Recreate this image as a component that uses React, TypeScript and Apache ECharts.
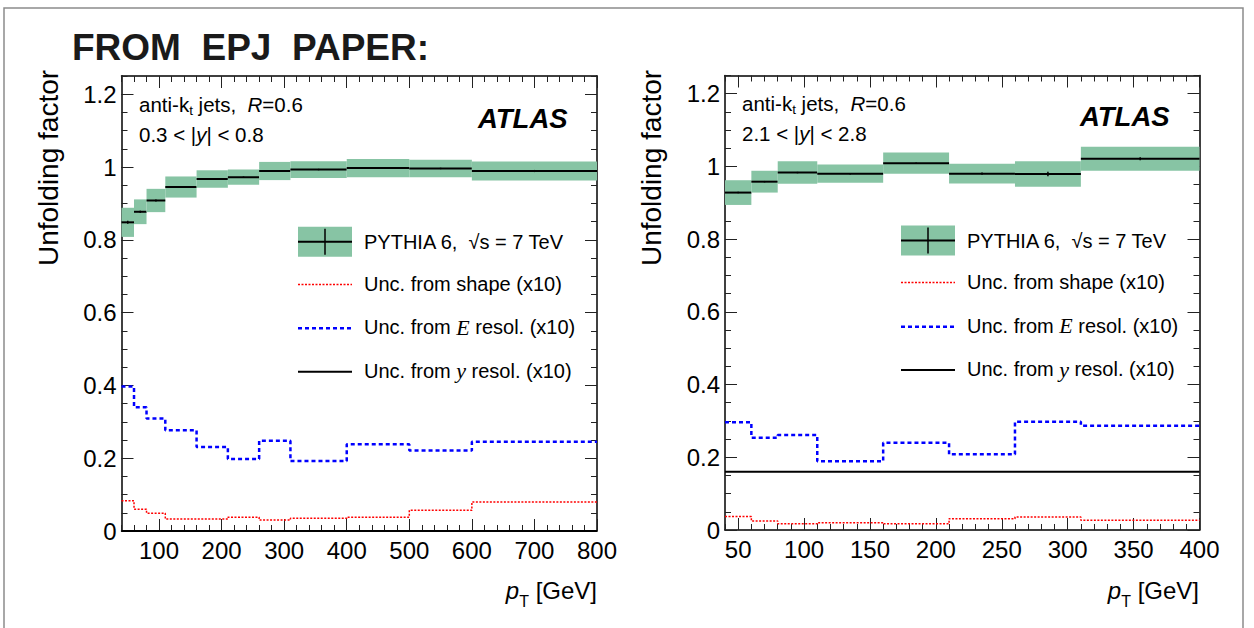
import React, { useEffect, useRef } from "react";
import * as echarts from "echarts";

const GREEN = "#87c4a4";
const FONT = "Liberation Sans";
const SERIF = "Liberation Serif";

// ---------- Left panel: 0.3 < |y| < 0.8 ----------
const leftEdges = [40, 60, 80, 110, 160, 210, 260, 310, 400, 500, 600, 800];
const leftFactor = [0.848, 0.877, 0.908, 0.945, 0.967, 0.972, 0.989, 0.993, 0.997, 0.996, 0.989];
const leftBand = [0.04, 0.034, 0.032, 0.029, 0.024, 0.021, 0.025, 0.023, 0.025, 0.024, 0.026];
const leftStat = [0.004, 0.003, 0.003, 0.002, 0.002, 0.002, 0.003, 0.002, 0.002, 0.002, 0.003];
const leftShape = [0.083, 0.06, 0.049, 0.033, 0.033, 0.038, 0.03, 0.035, 0.038, 0.057, 0.08];
const leftEres = [0.397, 0.34, 0.309, 0.277, 0.231, 0.198, 0.248, 0.192, 0.238, 0.221, 0.245];
const leftYres = [0, 0, 0, 0, 0, 0, 0, 0, 0, 0, 0];

// ---------- Right panel: 2.1 < |y| < 2.8 ----------
const rightEdges = [40, 60, 80, 110, 160, 210, 260, 310, 400];
const rightFactor = [0.928, 0.958, 0.983, 0.98, 1.009, 0.98, 0.979, 1.021];
const rightBand = [0.034, 0.03, 0.031, 0.025, 0.029, 0.027, 0.035, 0.033];
const rightStat = [0.002, 0.002, 0.002, 0.002, 0.002, 0.003, 0.006, 0.004];
const rightShape = [0.037, 0.025, 0.017, 0.02, 0.017, 0.031, 0.036, 0.027];
const rightEres = [0.296, 0.254, 0.261, 0.189, 0.24, 0.208, 0.298, 0.287];
const rightYres = [0.16, 0.16, 0.16, 0.16, 0.16, 0.16, 0.16, 0.16];

// ---------- Ticks ----------
const leftXMajor = [100, 200, 300, 400, 500, 600, 700, 800];
const rightXMajor = [50, 100, 150, 200, 250, 300, 350, 400];
const yMajor = [0, 0.2, 0.4, 0.6, 0.8, 1, 1.2];

function tickRange(a: number, b: number, step: number): number[] {
  const out: number[] = [];
  for (let k = 0; a + k * step <= b + 1e-9; k++) out.push(Math.round((a + k * step) * 1000) / 1000);
  return out;
}
const leftXMinor = tickRange(40, 800, 20);
const rightXMinor = tickRange(40, 400, 10);
const yMinor = tickRange(0, 1.25, 0.05);

function steps(edges: number[], vals: number[]) {
  const pts: number[][] = [];
  vals.forEach((v, i) => {
    pts.push([edges[i], v]);
    pts.push([edges[i + 1], v]);
  });
  return pts;
}
function bands(edges: number[], vals: number[], band: number[], stat: number[]) {
  return vals.map((v, i) => [edges[i], edges[i + 1], v, band[i], stat[i]]);
}

const tickStyle = { color: "#222", width: 1 };
const axisLineStyle = { color: "#000", width: 1.5 };

function xAxes(gi: number, min: number, max: number, majors: number[], minors: number[]) {
  const base = { type: "value", gridIndex: gi, min, max, splitLine: { show: false } };
  const major = (pos: string, labels: boolean) => ({
    ...base,
    position: pos,
    axisLine: { show: true, onZero: false, lineStyle: axisLineStyle },
    axisTick: { show: true, inside: true, length: 12, customValues: majors, lineStyle: tickStyle },
    axisLabel: labels
      ? { show: true, customValues: majors, fontSize: 24, fontFamily: FONT, color: "#000", margin: 7, formatter: (v: number) => String(v) }
      : { show: false },
  });
  const minor = (pos: string) => ({
    ...base,
    position: pos,
    axisLine: { show: false, onZero: false },
    axisTick: { show: true, inside: true, length: 6, customValues: minors, lineStyle: tickStyle },
    axisLabel: { show: false },
  });
  return [major("bottom", true), minor("bottom"), major("top", false), minor("top")];
}
function yAxes(gi: number) {
  const base = { type: "value", gridIndex: gi, min: 0, max: 1.25, splitLine: { show: false } };
  const major = (pos: string, labels: boolean) => ({
    ...base,
    position: pos,
    axisLine: { show: true, onZero: false, lineStyle: axisLineStyle },
    axisTick: { show: true, inside: true, length: 12, customValues: yMajor, lineStyle: tickStyle },
    axisLabel: labels
      ? { show: true, customValues: yMajor, fontSize: 24, fontFamily: FONT, color: "#000", margin: 5, formatter: (v: number) => String(v) }
      : { show: false },
  });
  const minor = (pos: string) => ({
    ...base,
    position: pos,
    axisLine: { show: false, onZero: false },
    axisTick: { show: true, inside: true, length: 6, customValues: yMinor, lineStyle: tickStyle },
    axisLabel: { show: false },
  });
  return [major("left", true), minor("left"), major("right", false), minor("right")];
}

function panelSeries(
  ai: number,
  edges: number[],
  factor: number[],
  band: number[],
  stat: number[],
  shape: number[],
  eres: number[],
  yres: number[]
) {
  return [
    {
      type: "custom",
      xAxisIndex: ai,
      yAxisIndex: ai,
      z: 2,
      silent: true,
      encode: { x: [0, 1], y: 2 },
      data: bands(edges, factor, band, stat),
      renderItem: (_p: any, api: any) => {
        const x0 = api.value(0);
        const x1 = api.value(1);
        const y = api.value(2);
        const b = api.value(3);
        const s = api.value(4);
        const p0 = api.coord([x0, y + b]);
        const p1 = api.coord([x1, y - b]);
        const c0 = api.coord([x0, y]);
        const c1 = api.coord([x1, y]);
        const xm = (x0 + x1) / 2;
        const e0 = api.coord([xm, y + s]);
        const e1 = api.coord([xm, y - s]);
        return {
          type: "group",
          children: [
            { type: "rect", shape: { x: p0[0], y: p0[1], width: p1[0] - p0[0], height: p1[1] - p0[1] }, style: { fill: GREEN } },
            { type: "line", shape: { x1: c0[0], y1: c0[1], x2: c1[0], y2: c1[1] }, style: { stroke: "#000", lineWidth: 2 } },
            { type: "line", shape: { x1: e0[0], y1: e0[1], x2: e1[0], y2: e1[1] }, style: { stroke: "#000", lineWidth: 1.5 } },
          ],
        };
      },
    },
    {
      type: "line",
      xAxisIndex: ai,
      yAxisIndex: ai,
      z: 3,
      symbol: "none",
      silent: true,
      data: steps(edges, shape),
      lineStyle: { color: "#ff0000", width: 1.5, type: [2, 1.5] },
    },
    {
      type: "line",
      xAxisIndex: ai,
      yAxisIndex: ai,
      z: 3,
      symbol: "none",
      silent: true,
      data: steps(edges, eres),
      lineStyle: { color: "#0000ff", width: 2.5, type: [4, 3] },
    },
    {
      type: "line",
      xAxisIndex: ai,
      yAxisIndex: ai,
      z: 4,
      symbol: "none",
      silent: true,
      data: steps(edges, yres),
      lineStyle: { color: "#000", width: 2 },
    },
  ];
}

const R19 = {
  n: { fontSize: 20.5, fontFamily: FONT, fill: "#000", lineHeight: 26 },
  i: { fontSize: 20.5, fontFamily: FONT, fontStyle: "italic", fill: "#000", lineHeight: 26 },
  s: { fontSize: 13.5, fontFamily: FONT, fill: "#000", lineHeight: 26, padding: [12, 0, 0, 0] },
};
const R20 = {
  n: { fontSize: 20, fontFamily: FONT, fill: "#000", lineHeight: 26 },
  m: { fontSize: 22, fontFamily: SERIF, fontStyle: "italic", fill: "#000", lineHeight: 26 },
};
const R24 = {
  n: { fontSize: 24, fontFamily: FONT, fill: "#000", lineHeight: 30 },
  i: { fontSize: 24, fontFamily: FONT, fontStyle: "italic", fill: "#000", lineHeight: 30 },
  s: { fontSize: 16, fontFamily: FONT, fill: "#000", lineHeight: 30, padding: [22, 0, 0, 0] },
};

function rtext(x: number, y: number, text: string, rich: any, align = "left") {
  return {
    type: "text",
    x,
    y,
    silent: true,
    z: 10,
    style: { text, rich, align, verticalAlign: "middle", textAlign: align, textVerticalAlign: "middle" },
  };
}
function ptext(x: number, y: number, text: string, st: any, rotation = 0) {
  return {
    type: "text",
    x,
    y,
    rotation,
    silent: true,
    z: 10,
    style: { text, fill: "#000", fontFamily: FONT, align: "left", verticalAlign: "middle", textAlign: "left", textVerticalAlign: "middle", ...st },
  };
}

function legend(x: number, rows: number[]) {
  const w = 54;
  return [
    { type: "rect", z: 9, silent: true, shape: { x, y: rows[0] - 15, width: w, height: 30 }, style: { fill: GREEN } },
    { type: "line", z: 10, silent: true, shape: { x1: x, y1: rows[0], x2: x + w, y2: rows[0] }, style: { stroke: "#000", lineWidth: 2 } },
    { type: "line", z: 10, silent: true, shape: { x1: x + w / 2, y1: rows[0] - 13, x2: x + w / 2, y2: rows[0] + 13 }, style: { stroke: "#000", lineWidth: 1.5 } },
    { type: "line", z: 10, silent: true, shape: { x1: x, y1: rows[1], x2: x + w, y2: rows[1] }, style: { stroke: "#ff0000", lineWidth: 1.5, lineDash: [2, 1.5] } },
    { type: "line", z: 10, silent: true, shape: { x1: x, y1: rows[2], x2: x + w, y2: rows[2] }, style: { stroke: "#0000ff", lineWidth: 2.5, lineDash: [4, 3] } },
    { type: "line", z: 10, silent: true, shape: { x1: x, y1: rows[3], x2: x + w, y2: rows[3] }, style: { stroke: "#000", lineWidth: 2 } },
    rtext(x + 66, rows[0], "{n|PYTHIA 6,\u00a0 \u221As = 7 TeV}", R20),
    rtext(x + 66, rows[1] - 1, "{n|Unc. from shape (x10)}", R20),
    rtext(x + 66, rows[2] - 1, "{n|Unc. from }{m|E}{n| resol. (x10)}", R20),
    rtext(x + 66, rows[3] - 1, "{n|Unc. from }{m|y}{n| resol. (x10)}", R20),
  ];
}

export default function App() {
  const ref = useRef<HTMLDivElement>(null);
  useEffect(() => {
    if (!ref.current) return;
    const chart = echarts.init(ref.current, undefined, { renderer: "svg" });
    const option: any = {
      animation: false,
      backgroundColor: "#fff",
      textStyle: { fontFamily: FONT },
      grid: [
        { left: 121.5, top: 76, width: 475.5, height: 455, containLabel: false, outerBoundsMode: "none" },
        { left: 725, top: 75.5, width: 474.5, height: 454.5, containLabel: false, outerBoundsMode: "none" },
      ],
      xAxis: [...xAxes(0, 40, 800, leftXMajor, leftXMinor), ...xAxes(1, 40, 400, rightXMajor, rightXMinor)],
      yAxis: [...yAxes(0), ...yAxes(1)],
      series: [
        ...panelSeries(0, leftEdges, leftFactor, leftBand, leftStat, leftShape, leftEres, leftYres),
        ...panelSeries(4, rightEdges, rightFactor, rightBand, rightStat, rightShape, rightEres, rightYres),
      ],
      graphic: {
        elements: [
          { type: "rect", silent: true, z: 0, shape: { x: 4, y: 8, width: 1239, height: 640 }, style: { fill: "none", stroke: "#8c8c8c", lineWidth: 1.5 } },
          ptext(72, 47.5, "FROM\u00a0 EPJ\u00a0 PAPER:", { fontSize: 37, fontWeight: "bold", fill: "#1a1a1a" }),
          // left panel texts
          rtext(139, 104, "{n|anti-k}{s|t}{n| jets,\u00a0 }{i|R}{n|=0.6}", R19),
          rtext(139, 134, "{n|0.3 < |}{i|y}{n|| < 0.8}", R19),
          ptext(478, 118, "ATLAS", { fontSize: 27.5, fontWeight: "bold", fontStyle: "italic" }),
          ptext(48, 168, "Unfolding factor", { fontSize: 28, align: "center", textAlign: "center" }, Math.PI / 2),
          rtext(597, 590, "{i|p}{s|T}{n| [GeV]}", R24, "right"),
          ...legend(298, [241.7, 284.5, 328.3, 371.7]),
          // right panel texts
          rtext(742, 103, "{n|anti-k}{s|t}{n| jets,\u00a0 }{i|R}{n|=0.6}", R19),
          rtext(742, 133, "{n|2.1 < |}{i|y}{n|| < 2.8}", R19),
          ptext(1080, 116, "ATLAS", { fontSize: 27.5, fontWeight: "bold", fontStyle: "italic" }),
          ptext(651, 168, "Unfolding factor", { fontSize: 28, align: "center", textAlign: "center" }, Math.PI / 2),
          rtext(1199, 590, "{i|p}{s|T}{n| [GeV]}", R24, "right"),
          ...legend(901, [240.5, 282.5, 326.7, 370]),
        ],
      },
    };
    chart.setOption(option);
    return () => chart.dispose();
  }, []);
  return (
    <div
      ref={ref}
      style={{ position: "fixed", left: 0, top: 0, width: 1254, height: 628, background: "#fff" }}
    />
  );
}
